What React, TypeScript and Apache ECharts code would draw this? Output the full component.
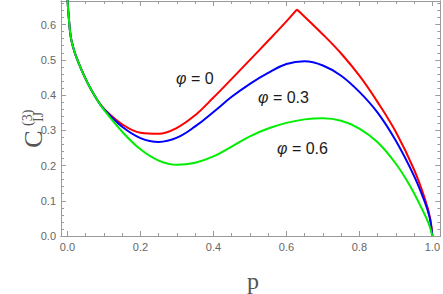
import React, { useEffect, useRef } from "react";
import * as echarts from "echarts";

// shared steep start (all three curves coincide here)
const startP = [0, 0.001, 0.004, 0.007, 0.011, 0.02, 0.028, 0.04, 0.052, 0.065, 0.083];
const startV = [0.69, 0.655, 0.615, 0.58, 0.554, 0.52, 0.498, 0.468, 0.441, 0.415, 0.384];

// φ = 0 (red): rising branch up to the cusp, then the falling branch
const redRiseP = [0.1, 0.15, 0.2, 0.25, 0.3, 0.35, 0.4, 0.45, 0.5, 0.55, 0.6, 0.629];
const redRiseV = [0.361, 0.317, 0.293, 0.29, 0.307, 0.343, 0.393, 0.446, 0.5, 0.554, 0.609, 0.643];
const redFallP = [0.629, 0.7, 0.75, 0.8, 0.85, 0.9, 0.95, 0.98, 0.994, 1.0];
const redFallV = [0.643, 0.572, 0.518, 0.455, 0.38, 0.295, 0.188, 0.104, 0.05, 0];

// φ = 0.3 (blue)
const blueP = [0.1, 0.15, 0.2, 0.25, 0.3, 0.35, 0.4, 0.45, 0.5, 0.55, 0.6, 0.65, 0.7, 0.75, 0.8, 0.85, 0.9, 0.95, 0.978, 0.992, 1.0];
const blueV = [0.36, 0.31, 0.278, 0.267, 0.279, 0.311, 0.352, 0.395, 0.432, 0.463, 0.488, 0.496, 0.484, 0.455, 0.409, 0.35, 0.27, 0.17, 0.1, 0.055, 0];

// φ = 0.6 (green)
const greenP = [0.1, 0.15, 0.2, 0.25, 0.3, 0.35, 0.4, 0.45, 0.5, 0.55, 0.6, 0.65, 0.7, 0.75, 0.8, 0.85, 0.9, 0.94, 0.97, 0.99, 1.0];
const greenV = [0.358, 0.296, 0.246, 0.214, 0.202, 0.208, 0.226, 0.254, 0.283, 0.305, 0.321, 0.331, 0.334, 0.327, 0.305, 0.266, 0.205, 0.14, 0.08, 0.035, 0];

const xMajorTicks = [0, 0.2, 0.4, 0.6, 0.8, 1.0];
const xMinorTicks = [0.05, 0.1, 0.15, 0.25, 0.3, 0.35, 0.45, 0.5, 0.55, 0.65, 0.7, 0.75, 0.85, 0.9, 0.95];
const yMajorTicks = [0, 0.1, 0.2, 0.3, 0.4, 0.5, 0.6];
const yMinorTicks = [0.02, 0.04, 0.06, 0.08, 0.12, 0.14, 0.16, 0.18, 0.22, 0.24, 0.26, 0.28, 0.32, 0.34, 0.36, 0.38, 0.42, 0.44, 0.46, 0.48, 0.52, 0.54, 0.56, 0.58, 0.62, 0.64, 0.66];

const seriesNames = ["φ = 0", "φ = 0.3", "φ = 0.6"];

const X_MIN = -0.0178;
const X_MAX = 1.0219;
const Y_MIN = 0;
const Y_MAX = 0.667;

const FRAME = "#9a9a9a";
const LABEL = "#666666";

function pairs(ps: number[], vs: number[]) {
  return ps.map((p, i) => [p, vs[i]]);
}

function xAxis(position: string, ticks: number[], len: number, labels: boolean) {
  return {
    type: "value",
    min: X_MIN,
    max: X_MAX,
    position,
    axisLine: { show: true, onZero: false, lineStyle: { color: FRAME, width: 1 } },
    axisTick: { show: true, inside: true, length: len, customValues: ticks, lineStyle: { color: FRAME, width: 1 } },
    axisLabel: labels
      ? { show: true, customValues: ticks, formatter: (v: number) => v.toFixed(1), color: LABEL, fontSize: 11, fontFamily: "Liberation Sans", margin: 5 }
      : { show: false },
    splitLine: { show: false },
  };
}

function yAxis(position: string, ticks: number[], len: number, labels: boolean) {
  return {
    type: "value",
    min: Y_MIN,
    max: Y_MAX,
    position,
    axisLine: { show: true, onZero: false, lineStyle: { color: FRAME, width: 1 } },
    axisTick: { show: true, inside: true, length: len, customValues: ticks, lineStyle: { color: FRAME, width: 1 } },
    axisLabel: labels
      ? { show: true, customValues: ticks, formatter: (v: number) => v.toFixed(1), color: LABEL, fontSize: 11, fontFamily: "Liberation Sans", margin: 5 }
      : { show: false },
    splitLine: { show: false },
  };
}

export default function App() {
  const ref = useRef<HTMLDivElement>(null);
  useEffect(() => {
    const chart = echarts.init(ref.current!, null, { renderer: "svg" });
    const lineSeries = (name: string, data: number[][], color: string) => ({
      type: "line",
      name,
      data,
      xAxisIndex: 0,
      yAxisIndex: 0,
      showSymbol: false,
      smooth: 0.4,
      clip: true,
      lineStyle: { color, width: 2 },
      itemStyle: { color },
    });
    const start = pairs(startP, startV);
    const option: any = {
      animation: false,
      backgroundColor: "#ffffff",
      grid: { left: 61, right: 2, top: 1, bottom: 58, containLabel: false },
      xAxis: [
        xAxis("bottom", xMajorTicks, 5, true),
        xAxis("bottom", xMinorTicks, 3, false),
        xAxis("top", xMajorTicks, 5, false),
        xAxis("top", xMinorTicks, 3, false),
      ],
      yAxis: [
        yAxis("left", yMajorTicks, 5, true),
        yAxis("left", yMinorTicks, 3, false),
        yAxis("right", yMajorTicks, 5, false),
        yAxis("right", yMinorTicks, 3, false),
      ],
      series: [
        lineSeries(seriesNames[0], start.concat(pairs(redRiseP, redRiseV)), "#ff0000"),
        lineSeries(seriesNames[0], pairs(redFallP, redFallV), "#ff0000"),
        lineSeries(seriesNames[1], start.concat(pairs(blueP, blueV)), "#0000ff"),
        lineSeries(seriesNames[2], start.concat(pairs(greenP, greenV)), "#00ee00"),
      ],
      graphic: [
        {
          type: "text",
          left: 176,
          top: 70,
          style: { text: "{i|φ} = 0", fontSize: 16, fontFamily: "Liberation Sans", fill: "#1a1a1a", rich: { i: { fontStyle: "italic", fontSize: 16, fontFamily: "Liberation Sans" } } },
        },
        {
          type: "text",
          left: 258,
          top: 89,
          style: { text: "{i|φ} = 0.3", fontSize: 16, fontFamily: "Liberation Sans", fill: "#1a1a1a", rich: { i: { fontStyle: "italic", fontSize: 16, fontFamily: "Liberation Sans" } } },
        },
        {
          type: "text",
          left: 277,
          top: 140,
          style: { text: "{i|φ} = 0.6", fontSize: 16, fontFamily: "Liberation Sans", fill: "#1a1a1a", rich: { i: { fontStyle: "italic", fontSize: 16, fontFamily: "Liberation Sans" } } },
        },
        {
          type: "text",
          x: 253,
          y: 281,
          style: { text: "p", fontSize: 24, fontFamily: "Liberation Serif", fill: "#555555", align: "center", verticalAlign: "middle" },
        },
        {
          type: "group",
          x: 33,
          y: 139,
          rotation: Math.PI / 2,
          children: [
            { type: "text", x: 0, y: 0, style: { text: "C", fontSize: 26, fontFamily: "Liberation Serif", fill: "#555555", align: "center", verticalAlign: "middle" } },
            { type: "text", x: 13, y: -6, style: { text: "(3)", fontSize: 14, fontFamily: "Liberation Serif", fill: "#555555", align: "left", verticalAlign: "middle" } },
            { type: "text", x: 17, y: 5, style: { text: "IJ", fontSize: 14, fontFamily: "Liberation Serif", fill: "#555555", align: "left", verticalAlign: "middle" } },
          ],
        },
      ],
    };
    chart.setOption(option);
    return () => chart.dispose();
  }, []);
  return <div ref={ref} style={{ width: 443, height: 294, position: "absolute", left: 0, top: 0 }} />;
}
